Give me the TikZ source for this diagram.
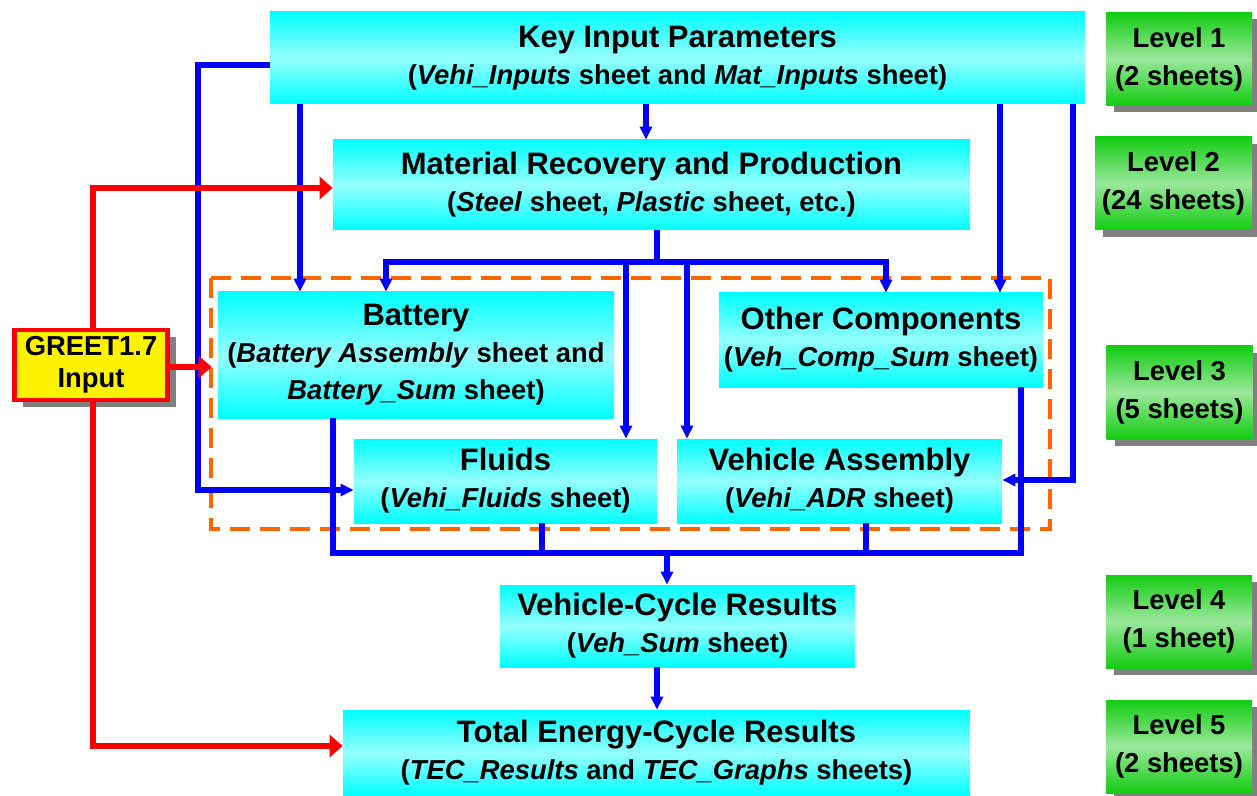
\documentclass[tikz,border=0pt]{standalone}
\usepackage{fontspec}
\setmainfont{Liberation Sans}
\usetikzlibrary{arrows.meta,shadows}
\definecolor{boxcyan}{RGB}{0,255,255}
\definecolor{boxlight}{RGB}{150,255,255}
\definecolor{lvgreen}{RGB}{17,204,17}
\definecolor{lvlight}{RGB}{155,232,155}
\definecolor{dashorange}{RGB}{255,102,0}
\definecolor{shadowgray}{RGB}{128,128,128}
\newcommand{\titlesize}{\fontsize{15.5}{18.5}\selectfont}
\newcommand{\sheetsize}{\fontsize{13.7}{17}\selectfont}

\begin{document}
\begin{tikzpicture}[x=0.5pt, y=-0.5pt,
					>={Triangle[length=6.5pt,width=6pt]},   %Pfeilspitzen
					sheetbox/.style={top color=boxcyan, bottom color=boxcyan, middle color=boxlight, align=center, inner sep=0pt, font=\bfseries\titlesize},
					levelbox/.style={top color=lvgreen, bottom color=lvgreen, middle color=lvlight, align=center, inner sep=0pt, font=\bfseries\fontsize{13.7}{19}\selectfont, minimum width=73pt, minimum height=46.5pt,
						drop shadow={shadow xshift=4pt, shadow yshift=-3.5pt, fill=shadowgray, opacity=1}},
					inputbox/.style={fill=yellow, draw=red, line width=2.2pt, align=center, inner sep=0pt, font=\bfseries\fontsize{13.7}{16}\selectfont,
						drop shadow={shadow xshift=4pt, shadow yshift=-3.5pt, fill=shadowgray, opacity=1}},
					flow/.style={draw=blue, line width=2.6pt},
					feed/.style={draw=red, line width=3.3pt, >={Triangle[length=6.5pt,width=11pt]}},
					groupline/.style={draw=dashorange, line width=2.2pt, dash pattern=on 10pt off 5pt}]
	\useasboundingbox (0,0) rectangle (1257,796);
	% Rahmen um Level 3
	\draw[groupline] (211,278) rectangle (1050,529);
	% Blaetter
	\node[sheetbox, minimum width=407.5pt, minimum height=46pt] (kip) at (677.5,58)
		{Key Input Parameters\\\sheetsize(\textit{Vehi\_Inputs} sheet and \textit{Mat\_Inputs} sheet)};
	\node[sheetbox, minimum width=318.5pt, minimum height=45pt] (mrp) at (651.5,185)
		{Material Recovery and Production\\\sheetsize(\textit{Steel} sheet, \textit{Plastic} sheet, etc.)};
	\node[sheetbox, minimum width=198pt, minimum height=63pt] (bat) at (416,355)
		{Battery\\\sheetsize(\textit{Battery Assembly} sheet and\\\sheetsize\textit{Battery\_Sum} sheet)};
	\node[sheetbox, minimum width=162pt, minimum height=47pt] (oth) at (881,340)
		{Other Components\\\sheetsize(\textit{Veh\_Comp\_Sum} sheet)};
	\node[sheetbox, minimum width=151.5pt, minimum height=42pt] (flu) at (505.5,481)
		{Fluids\\\sheetsize(\textit{Vehi\_Fluids} sheet)};
	\node[sheetbox, minimum width=162.5pt, minimum height=42pt] (vas) at (839.5,481)
		{Vehicle Assembly\\\sheetsize(\textit{Vehi\_ADR} sheet)};
	\node[sheetbox, minimum width=177.5pt, minimum height=41pt] (vcr) at (677.5,626)
		{Vehicle-Cycle Results\\\sheetsize(\textit{Veh\_Sum} sheet)};
	\node[sheetbox, minimum width=313.5pt, minimum height=43pt] (tec) at (656.5,753)
		{Total Energy-Cycle Results\\\sheetsize(\textit{TEC\_Results} and \textit{TEC\_Graphs} sheets)};
	% Eingabe
	\node[inputbox, minimum width=76.5pt, minimum height=35pt] (greet) at (91,365) {GREET1.7\\Input};
	% Ebenen
	\node[levelbox] (lv1) at (1179,59) {Level 1\\(2 sheets)};
	\node[levelbox, minimum width=78.5pt] (lv2) at (1173.5,183.5) {Level 2\\(24 sheets)};
	\node[levelbox] (lv3) at (1179.5,392.5) {Level 3\\(5 sheets)};
	\node[levelbox] (lv4) at (1179,621.5) {Level 4\\(1 sheet)};
	\node[levelbox] (lv5) at (1179,746.5) {Level 5\\(2 sheets)};
	% Blaue Verbindungen
	\coordinate (lbus) at (198,65);
	\coordinate (mbus) at (657,262);
	\coordinate (cbus) at (667,553);
	\draw[flow,->] (kip.west |- lbus) -- (lbus) |- (flu.west |- 0,490);
	\draw[flow,->] (kip.south -| 300,0) -- (bat.north -| 300,0);
	\draw[flow,->] (kip.south -| 646,0) -- (mrp.north -| 646,0);
	\draw[flow,->] (kip.south -| 1000,0) -- (oth.north -| 1000,0);
	\draw[flow,->] (kip.south -| 1073,0) |- (vas.east |- 0,480);
	\draw[flow] (mrp.south -| mbus) -- (mbus);
	\foreach \tx/\tn in {386/bat, 626/flu, 687/vas, 886/oth}
		\draw[flow,->] (mbus) -| (\tn.north -| \tx,0);
	\foreach \sx/\sn in {333/bat, 542/flu, 866/vas, 1021/oth}
		\draw[flow] (\sn.south -| \sx,0) |- (cbus);
	\draw[flow,->] (cbus) -- (vcr.north -| cbus);
	\draw[flow,->] (vcr.south -| 657,0) -- (tec.north -| 657,0);
	% Rote Verbindungen
	\draw[feed,->] (greet.north -| 93,0) |- (mrp.west |- 0,188);
	\draw[feed,->, shorten >=3pt] (greet.east |- 0,367) -- (bat.west |- 0,367);
	\draw[feed,->] (greet.south -| 93,0) |- (tec.west |- 0,746);
\end{tikzpicture}
\end{document}
